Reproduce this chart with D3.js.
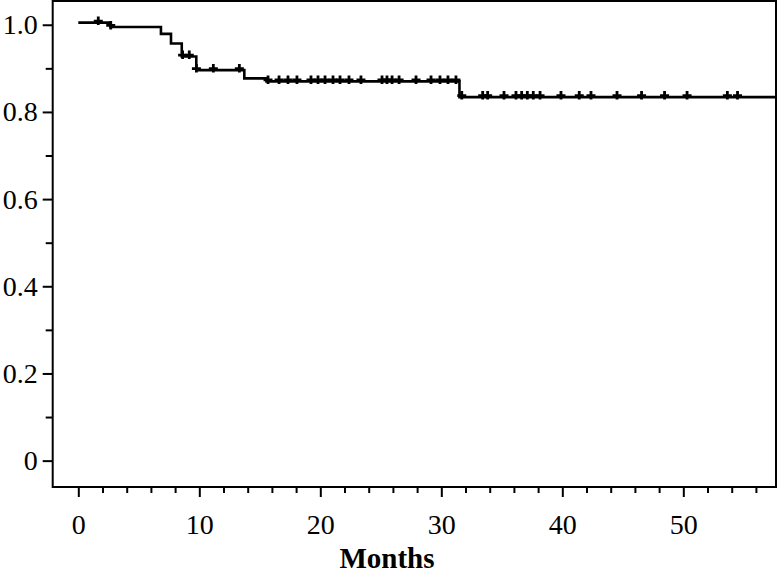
<!DOCTYPE html>
<html>
<head>
<meta charset="utf-8">
<script src="https://cdn.jsdelivr.net/npm/d3@7"></script>
<style>
  html, body { margin: 0; padding: 0; background: #fff; }
  svg { display: block; }
  .tick text { font-family: "Liberation Serif", "Times New Roman", serif; }
</style>
</head>
<body>
<svg id="chart" width="778" height="574"></svg>
<script>
// ---- data ----
const stepTimes = [0, 2.65, 6.83, 7.66, 8.55, 9.75, 13.72, 15.55, 31.5];
const stepSurv  = [1.005, 0.995, 0.979, 0.957, 0.927, 0.896, 0.877, 0.870, 0.834];
const endTime = 57.7;
const censorTimes = [
  1.65, 2.68, 8.62, 9.17, 9.76, 11.16, 13.31,
  15.68, 16.59, 17.33, 18.07, 19.23, 19.81, 20.39, 21.05, 21.63, 22.37, 23.36,
  25.10, 25.51, 25.93, 26.51, 27.91, 29.15, 29.89, 30.55, 31.21,
  31.69, 33.42, 33.83, 35.18, 36.17, 36.64, 37.11, 37.60, 38.16, 39.89,
  41.40, 42.37, 44.52, 46.55, 48.45, 50.31, 53.64, 54.48
];
const xMajorTicks = [0, 10, 20, 30, 40, 50];
const xMinorTicks = [2, 4, 6, 8, 12, 14, 16, 18, 22, 24, 26, 28, 32, 34, 36, 38, 42, 44, 46, 48, 52, 54, 56];
const yMajorTicks = [0, 0.2, 0.4, 0.6, 0.8, 1.0];
const yMinorTicks = [0.1, 0.3, 0.5, 0.7, 0.9];
const yTickLabels = ["0", "0.2", "0.4", "0.6", "0.8", "1.0"];
const xTitle = "Months";

// ---- layout ----
const svg = d3.select("#chart");
const box = { left: 52.7, right: 776, top: 1, bottom: 487 };
const x = d3.scaleLinear().domain([-2.116, 57.66]).range([box.left, box.right]);
const y = d3.scaleLinear().domain([-0.0605, 1.0545]).range([box.bottom, box.top]);

const fontFam = '"Liberation Serif", "Times New Roman", serif';

// frame
svg.append("rect")
  .attr("x", box.left).attr("y", box.top)
  .attr("width", box.right - box.left).attr("height", box.bottom - box.top)
  .attr("fill", "none").attr("stroke", "#000").attr("stroke-width", 2);

// x axis: major
const gxMaj = svg.append("g").attr("transform", `translate(0,${box.bottom})`)
  .call(d3.axisBottom(x).tickValues(xMajorTicks).tickSize(10).tickPadding(17).tickSizeOuter(0)
        .tickFormat(d3.format("d")));
gxMaj.select(".domain").remove();
gxMaj.selectAll("line").attr("stroke", "#000").attr("stroke-width", 2);
gxMaj.selectAll("text").attr("font-size", 28).attr("fill", "#000").attr("font-family", fontFam);

const gxMin = svg.append("g").attr("transform", `translate(0,${box.bottom})`)
  .call(d3.axisBottom(x).tickValues(xMinorTicks).tickSize(6).tickFormat("").tickSizeOuter(0));
gxMin.select(".domain").remove();
gxMin.selectAll("line").attr("stroke", "#000").attr("stroke-width", 2);

// y axis: major
const gyMaj = svg.append("g").attr("transform", `translate(${box.left},0)`)
  .call(d3.axisLeft(y).tickValues(yMajorTicks).tickSize(10).tickPadding(5).tickSizeOuter(0)
        .tickFormat((d, i) => yTickLabels[i]));
gyMaj.select(".domain").remove();
gyMaj.selectAll("line").attr("stroke", "#000").attr("stroke-width", 2);
gyMaj.selectAll("text").attr("font-size", 28).attr("fill", "#000").attr("font-family", fontFam);

const gyMin = svg.append("g").attr("transform", `translate(${box.left},0)`)
  .call(d3.axisLeft(y).tickValues(yMinorTicks).tickSize(7).tickFormat("").tickSizeOuter(0));
gyMin.select(".domain").remove();
gyMin.selectAll("line").attr("stroke", "#000").attr("stroke-width", 2);

// axis title
svg.append("text")
  .attr("x", 387).attr("y", 568)
  .attr("text-anchor", "middle")
  .attr("font-family", fontFam).attr("font-weight", "bold").attr("font-size", 29)
  .attr("fill", "#000")
  .text(xTitle);

// survival step curve
const pts = stepTimes.map((t, i) => [t, stepSurv[i]]);
pts.push([endTime, stepSurv[stepSurv.length - 1]]);
const line = d3.line().x(d => x(d[0])).y(d => y(d[1])).curve(d3.curveStepAfter);
svg.append("path")
  .attr("d", line(pts))
  .attr("fill", "none").attr("stroke", "#000").attr("stroke-width", 2.6);

// censor marks
function survAt(t) {
  const i = d3.bisectRight(stepTimes, t) - 1;
  return stepSurv[Math.max(0, i)];
}
const cg = svg.append("g");
censorTimes.forEach(t => {
  const cx = x(t), cy = y(survAt(t)) - 1.5;
  cg.append("path")
    .attr("d", `M${cx - 4.5},${cy}H${cx + 4.5}M${cx},${cy - 4.5}V${cy + 4}`)
    .attr("stroke", "#000").attr("stroke-width", 2.8).attr("fill", "none");
});
</script>
</body>
</html>
